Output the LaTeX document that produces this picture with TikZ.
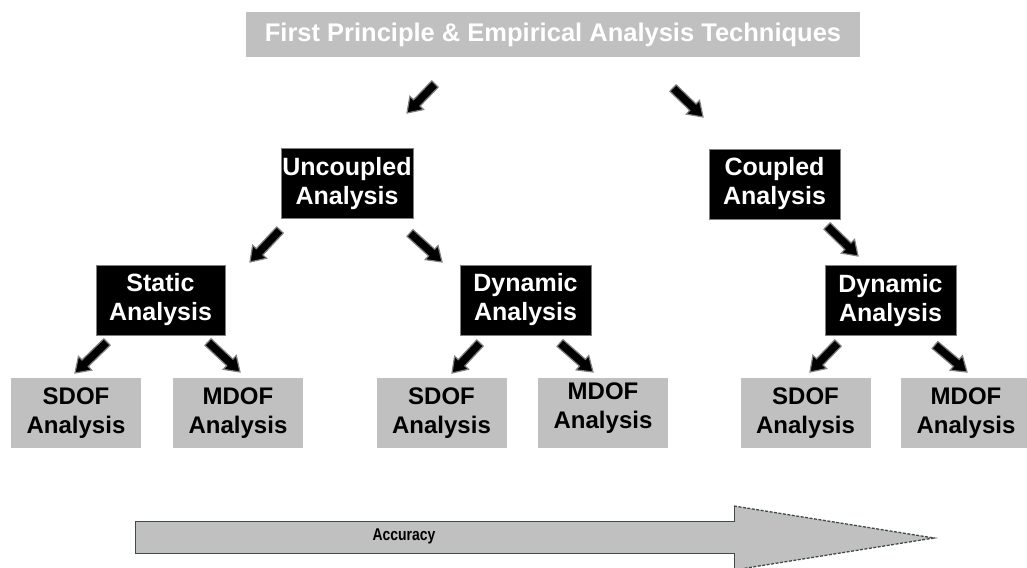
\documentclass[tikz,border=0pt]{standalone}
\usepackage{fontspec}
\setmainfont{Liberation Sans}
\usepackage{graphicx}
\usetikzlibrary{calc}

\definecolor{boxgray}{HTML}{C0C0C0}
\definecolor{rimgray}{HTML}{808080}
\definecolor{edgegray}{HTML}{3F4A4A}

\tikzset{
  titlebox/.style={fill=boxgray, text=white, inner sep=0pt,
    font=\bfseries\fontsize{25.5}{30}\selectfont,
    minimum width=614, minimum height=45},
  blackbox/.style={fill=black, draw=rimgray, line width=0.8pt, text=white,
    inner sep=0pt, align=center,
    font=\bfseries\fontsize{25}{29}\selectfont,
    minimum width=131, minimum height=70},
  graybox/.style={fill=boxgray, text=black, inner sep=0pt, align=center,
    font=\bfseries\fontsize{24}{29}\selectfont,
    minimum width=130, minimum height=70},
  arrowbody/.style={fill=black, draw=rimgray, line width=1.2pt, line join=miter},
  scaleedge/.style={draw=edgegray, line width=1pt},
}

% Thick black block arrow from #1 (tail) to #2 (tip)
\newcommand\blockarrow[2]{%
  \path let \p1=($(#2)-(#1)$) in
    \pgfextra{\pgfmathsetmacro\baTmpA{atan2(\y1,\x1)}\xdef\baAng{\baTmpA}%
              \pgfmathsetmacro\baTmpL{veclen(\x1,\y1)}\xdef\baLen{\baTmpL}};
  \draw[arrowbody, shift={(#1)}, rotate=\baAng]
    (0,-4.5) -- (\baLen-14,-4.5) -- (\baLen-14,-9.5) -- (\baLen,0)
    -- (\baLen-14,9.5) -- (\baLen-14,4.5) -- (0,4.5) -- cycle;
}

\begin{document}
\begin{tikzpicture}[x=1pt, y=-1pt]
  \useasboundingbox (0,0) rectangle (1027,567);
  \clip (0,0) rectangle (1027,567);

  % boxes
  \node[titlebox] (top) at (553,34.5) {First Principle \& Empirical Analysis Techniques};

  \node[blackbox, minimum width=132] (unc) at (347,183.5) {Uncoupled\\Analysis};
  \node[blackbox] (cpl) at (774.5,184) {Coupled\\Analysis};

  \node[blackbox, minimum width=129] (stat) at (160.5,300) {Static\\Analysis};
  \node[blackbox] (dyn1) at (525.5,300) {Dynamic\\Analysis};
  \node[blackbox] (dyn2) at (890.5,300.5) {Dynamic\\Analysis};

  \node[graybox] (sdof1) at (76,413) {SDOF\\Analysis};
  \node[graybox] (mdof1) at (238,413) {MDOF\\Analysis};
  \node[graybox] (sdof2) at (441.5,413) {SDOF\\Analysis};
  \node[graybox] (mdof2) at (603,413)
    {\raisebox{5pt}[\height][\depth]{\begin{tabular}{@{}c@{}}MDOF\\Analysis\end{tabular}}};
  \node[graybox] (sdof3) at (805.5,413) {SDOF\\Analysis};
  \node[graybox] (mdof3) at (966,413) {MDOF\\Analysis};

  % arrow end points
  \coordinate (a1s) at (435,84);   \coordinate (a1e) at (407,113);
  \coordinate (a2s) at (673,88);   \coordinate (a2e) at (703,117);
  \coordinate (a3s) at (280,230);  \coordinate (a3e) at (250,262);
  \coordinate (a4s) at (410,233);  \coordinate (a4e) at (442,262);
  \coordinate (a5s) at (827,226);  \coordinate (a5e) at (858,256);
  \coordinate (a6s) at (107,342);  \coordinate (a6e) at (75,373);
  \coordinate (a7s) at (208,342);  \coordinate (a7e) at (240,372);
  \coordinate (a8s) at (480,343);  \coordinate (a8e) at (452,373);
  \coordinate (a9s) at (560,343);  \coordinate (a9e) at (593,372);
  \coordinate (a10s) at (838,343); \coordinate (a10e) at (810,372);
  \coordinate (a11s) at (935,345); \coordinate (a11e) at (967,372);

  \blockarrow{a1s}{a1e}
  \blockarrow{a2s}{a2e}
  \blockarrow{a3s}{a3e}
  \blockarrow{a4s}{a4e}
  \blockarrow{a5s}{a5e}
  \blockarrow{a6s}{a6e}
  \blockarrow{a7s}{a7e}
  \blockarrow{a8s}{a8e}
  \blockarrow{a9s}{a9e}
  \blockarrow{a10s}{a10e}
  \blockarrow{a11s}{a11e}

  % accuracy scale arrow
  \fill[boxgray] (135,521) -- (734,521) -- (734,506) -- (934,538)
    -- (734,570) -- (734,553) -- (135,553) -- cycle;
  \draw[scaleedge] (734,506) -- (734,521) -- (135,521) -- (135,553)
    -- (734,553) -- (734,570);
  \draw[scaleedge, line width=1.3pt, dash pattern=on 3pt off 1.5pt]
    (734,506) -- (934,538) -- (734,570);
  \node[font=\bfseries\fontsize{17}{20}\selectfont, inner sep=0pt] (acc) at (404,536)
    {\scalebox{0.82}[1]{Accuracy}};
\end{tikzpicture}
\end{document}
